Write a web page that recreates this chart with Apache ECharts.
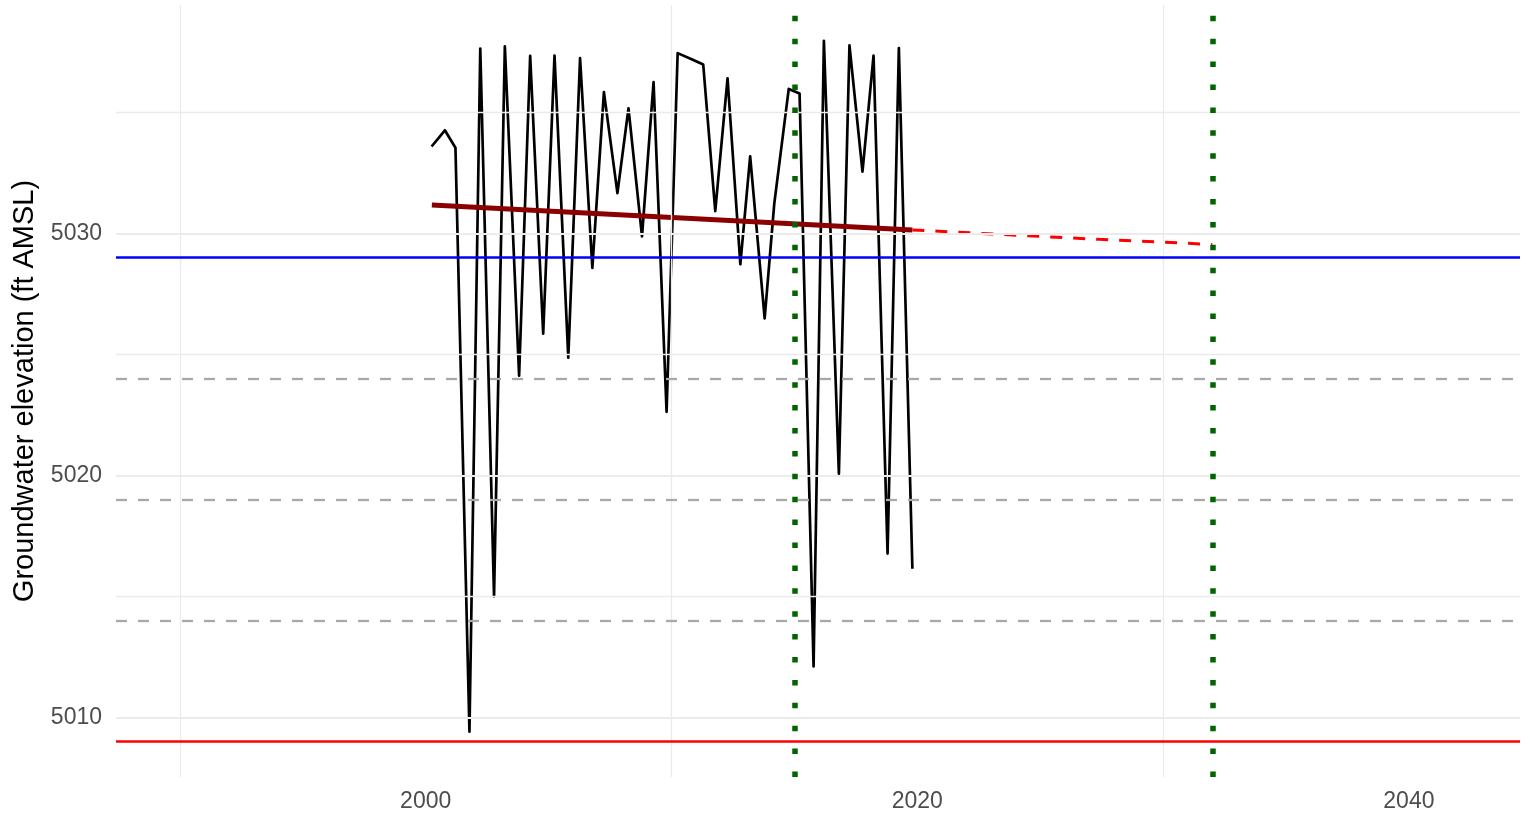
<!DOCTYPE html>
<html>
<head>
<meta charset="utf-8">
<script src="https://cdn.jsdelivr.net/npm/echarts@6/dist/echarts.min.js"></script>
<style>
  html, body { margin: 0; padding: 0; background: #fff; }
  #main { width: 1532px; height: 814px; }
</style>
</head>
<body>
<div id="main"></div>
<script>
// observed groundwater elevations (decimal year, ft AMSL)
const years = [2000.24, 2000.78, 2001.21, 2001.78, 2002.22, 2002.78, 2003.22, 2003.8, 2004.25, 2004.78,
  2005.24, 2005.8, 2006.28, 2006.78, 2007.25, 2007.8, 2008.25, 2008.8, 2009.27, 2009.8,
  2010.25, 2010.82, 2011.29, 2011.78, 2012.28, 2012.8, 2013.2, 2013.79, 2014.18, 2014.77,
  2015.21, 2015.78, 2016.2, 2016.81, 2017.24, 2017.77, 2018.22, 2018.79, 2019.25, 2019.8]
const levels = [5033.6, 5034.27, 5033.55, 5009.4, 5037.65, 5015.0, 5037.74, 5024.12, 5037.35, 5025.86,
  5037.36, 5024.87, 5037.25, 5028.58, 5035.85, 5031.67, 5035.18, 5029.88, 5036.26, 5022.63,
  5037.46, 5037.21, 5036.99, 5030.93, 5036.42, 5028.73, 5033.19, 5026.49, 5031.23, 5035.98,
  5035.79, 5012.1, 5037.97, 5020.07, 5037.78, 5032.56, 5037.36, 5016.77, 5037.67, 5016.14]

// fitted trend and projection
const trendYears = [2000.25, 2019.8]
const trendValues = [5031.18, 5030.15]
const projYears = [2019.8, 2023.7, 2027.4, 2032]
const projValues = [5030.15, 5029.95, 5029.76, 5029.55]

// reference levels
const blueLevel = 5029
const redLevel = 5009
const dashedLevels = [5024, 5019, 5014]
const markerYears = [2015, 2032]

// ticks and grid
const xLabels = [2000, 2020, 2040]
const yLabels = [5010, 5020, 5030]
const xGrid = [1990, 2010, 2030]
const yGridMajor = [5010, 5020, 5030]
const yGridMinor = [5015, 5025, 5035]

const font = 'Liberation Sans, Arial, sans-serif'
const pairs = (xs, ys) => xs.map((x, i) => [x, ys[i]])

const chart = echarts.init(document.getElementById('main'))
chart.setOption({
  animation: false,
  backgroundColor: '#fff',
  grid: { left: 116, right: 12, top: 5, bottom: 37, containLabel: false, outerBoundsMode: 'none' },
  xAxis: {
    type: 'value',
    min: 1987.4,
    max: 2044.52,
    axisLine: { show: false },
    axisTick: { show: false },
    splitLine: { show: false },
    axisLabel: {
      customValues: xLabels,
      formatter: v => String(v),
      color: '#4D4D4D',
      fontSize: 23,
      fontFamily: font,
      margin: 13
    }
  },
  yAxis: {
    type: 'value',
    min: 5007.53,
    max: 5039.45,
    name: 'Groundwater elevation (ft AMSL)',
    nameLocation: 'middle',
    nameRotate: 90,
    nameGap: 73,
    nameTextStyle: { color: '#000', fontSize: 29, fontFamily: font },
    axisLine: { show: false },
    axisTick: { show: false },
    splitLine: { show: false },
    axisLabel: {
      customValues: yLabels,
      formatter: v => String(v),
      color: '#4D4D4D',
      fontSize: 23,
      fontFamily: font,
      margin: 14,
      padding: [6, 0, 0, 0]
    }
  },
  series: [
    {
      name: 'grid',
      type: 'line',
      data: [],
      z: 0,
      markLine: {
        silent: true,
        symbol: ['none', 'none'],
        label: { show: false },
        lineStyle: { color: '#EBEBEB', width: 1.3, type: 'solid' },
        data: [
          ...xGrid.map(v => ({ xAxis: v })),
          ...yGridMinor.map(v => ({ yAxis: v })),
          ...yGridMajor.map(v => ({ yAxis: v, lineStyle: { width: 2.2 } }))
        ]
      }
    },
    {
      name: 'observed',
      type: 'line',
      data: pairs(years, levels),
      showSymbol: false,
      z: 2,
      lineStyle: { color: '#000', width: 2.7, join: 'round' }
    },
    {
      name: 'levels',
      type: 'line',
      data: [],
      z: 3,
      markLine: {
        silent: true,
        symbol: ['none', 'none'],
        label: { show: false },
        data: [
          { yAxis: blueLevel, lineStyle: { color: '#0000FF', width: 2.6, type: 'solid' } },
          { yAxis: redLevel, lineStyle: { color: '#FF0000', width: 2.6, type: 'solid' } },
          ...dashedLevels.map(v => ({ yAxis: v, lineStyle: { color: '#A9A9A9', width: 2.3, type: [11, 11] } }))
        ]
      }
    },
    {
      name: 'trend',
      type: 'line',
      data: pairs(trendYears, trendValues),
      showSymbol: false,
      z: 4,
      lineStyle: { color: '#8B0000', width: 5 }
    },
    {
      name: 'projection',
      type: 'line',
      data: pairs(projYears, projValues),
      showSymbol: false,
      z: 4,
      lineStyle: { color: '#FF0000', width: 3, type: [12, 11] }
    },
    {
      name: 'markers',
      type: 'line',
      data: [],
      z: 5,
      markLine: {
        silent: true,
        symbol: ['none', 'none'],
        label: { show: false },
        lineStyle: { color: '#006400', width: 5.5, type: [5.5, 17.4], cap: 'butt' },
        data: markerYears.map(v => ({ xAxis: v }))
      }
    }
  ]
})
</script>
</body>
</html>
